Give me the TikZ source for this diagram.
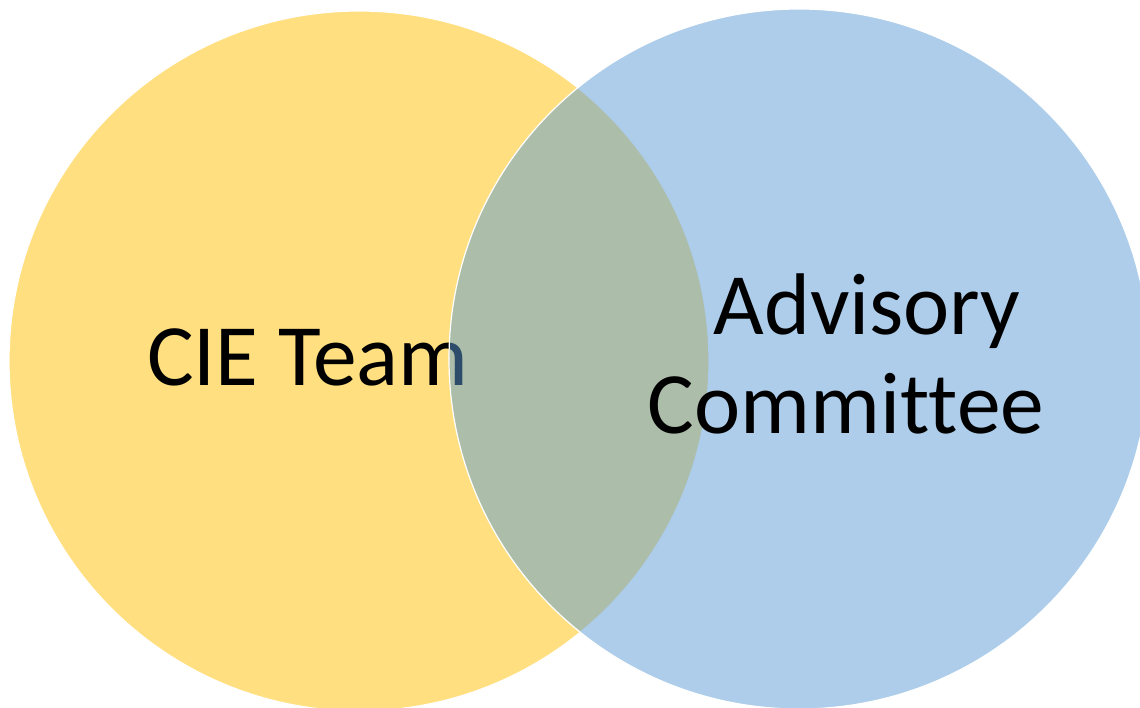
\documentclass[tikz,border=0pt]{standalone}
\usepackage{fontspec}
\setmainfont{Carlito}[Ligatures=NoCommon]
\usepackage{tikz}
\usetikzlibrary{positioning}
\definecolor{teamyellow}{HTML}{FFC000}
\definecolor{boardblue}{HTML}{5B9BD5}
\tikzset{venn/.style={circle,draw=white,line width=1.2pt,fill opacity=0.5,minimum size=700pt,inner sep=0pt}}

\begin{document}
\begin{tikzpicture}[x=1pt,y=-1pt,every node/.append style={font=\fontsize{87.5}{98}\selectfont}]
        \useasboundingbox (0,0) rectangle (1140,708);

        \node (team)  [venn,fill=teamyellow] at (359,361)   {};
        \node (tlbl)  [anchor=base]          at (308,385)   {CIE Team};

        \node (board) [venn,fill=boardblue]  at (799,359)   {};
        \node (blbl1) [anchor=base]          at (867,335)   {Advisory};
        \node (blbl2) [anchor=base]          at (846,433)   {Committee};
    \end{tikzpicture}
\end{document}
